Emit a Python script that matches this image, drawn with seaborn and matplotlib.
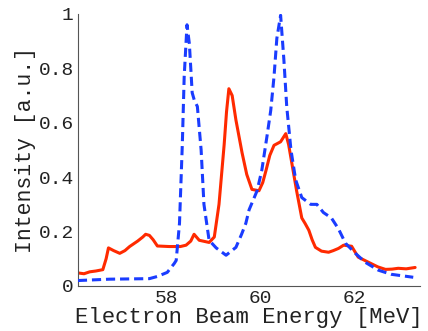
import matplotlib
matplotlib.use("Agg")
import matplotlib.pyplot as plt
import seaborn as sns
import pandas as pd
from matplotlib.ticker import FuncFormatter

red_energy = [56.12, 56.25, 56.37, 56.50, 56.65, 56.72, 56.77, 56.88, 57.01, 57.12,
              57.22, 57.39, 57.50, 57.56, 57.64, 57.72, 57.81, 58.06, 58.30, 58.42,
              58.52, 58.59, 58.70, 58.91, 59.02, 59.12, 59.23, 59.28, 59.33, 59.40,
              59.48, 59.61, 59.71, 59.82, 59.97, 60.05, 60.12, 60.20, 60.29, 60.43,
              60.54, 60.60, 60.67, 60.77, 60.88, 60.95, 61.03, 61.10, 61.17, 61.30,
              61.45, 61.55, 61.66, 61.77, 61.94, 62.08, 62.30, 62.50, 62.66, 62.80,
              62.93, 63.10, 63.29]
red_intensity = [0.048, 0.045, 0.052, 0.055, 0.06, 0.10, 0.14, 0.13, 0.12, 0.13,
                 0.145, 0.165, 0.18, 0.19, 0.186, 0.17, 0.147, 0.145, 0.145, 0.15,
                 0.165, 0.19, 0.168, 0.16, 0.18, 0.30, 0.52, 0.64, 0.725, 0.70,
                 0.61, 0.49, 0.41, 0.355, 0.35, 0.38, 0.425, 0.48, 0.517, 0.53,
                 0.56, 0.52, 0.45, 0.35, 0.25, 0.23, 0.205, 0.17, 0.142, 0.128,
                 0.124, 0.13, 0.138, 0.15, 0.146, 0.106, 0.087, 0.07, 0.061, 0.062,
                 0.065, 0.063, 0.068]

blue_energy = [56.12, 56.79, 57.64, 57.81, 58.02, 58.17, 58.21, 58.28, 58.34, 58.38,
               58.44, 58.49, 58.55, 58.60, 58.66, 58.74, 58.80, 58.91, 59.06, 59.27,
               59.48, 59.60, 59.69, 59.76, 59.93, 60.03, 60.14, 60.22, 60.29, 60.35,
               60.43, 60.50, 60.56, 60.65, 60.75, 60.88, 61.07, 61.20, 61.34, 61.51,
               61.66, 61.81, 62.02, 62.23, 62.51, 62.78, 63.08, 63.25]
blue_intensity = [0.02, 0.025, 0.027, 0.035, 0.05, 0.083, 0.094, 0.23, 0.52, 0.77,
                  0.96, 0.89, 0.71, 0.68, 0.66, 0.50, 0.30, 0.168, 0.14, 0.113,
                  0.142, 0.19, 0.23, 0.28, 0.35, 0.425, 0.55, 0.645, 0.77, 0.91,
                  0.995, 0.83, 0.66, 0.50, 0.39, 0.325, 0.30, 0.30, 0.27, 0.25,
                  0.21, 0.157, 0.12, 0.087, 0.058, 0.043, 0.036, 0.032]

x_ticks = [58, 60, 62]
y_ticks = [0, 0.2, 0.4, 0.6, 0.8, 1]

sns.set_style("white")
plt.rcParams['font.family'] = ['Liberation Mono', 'DejaVu Sans']

fig = plt.figure(figsize=(4.28, 3.31), dpi=100)
ax = fig.add_axes([0.182, 0.136, 0.800, 0.822])

df_red = pd.DataFrame({"E": red_energy, "I": red_intensity})
df_blue = pd.DataFrame({"E": blue_energy, "I": blue_intensity})
sns.lineplot(data=df_blue, x="E", y="I", ax=ax, color="#1a3cff", lw=2.2,
             linestyle=(0, (3, 1.6)), zorder=3)
sns.lineplot(data=df_red, x="E", y="I", ax=ax, color="#ff2a00", lw=2.2, zorder=2)

ax.set_xlim(56.12, 63.4)
ax.set_ylim(0, 1)
ax.set_xticks(x_ticks)
ax.set_yticks(y_ticks)
ax.yaxis.set_major_formatter(FuncFormatter(lambda v, p: "%g" % v))
ax.tick_params(direction="in", length=4, width=0.8, labelsize=14, colors="#222222", pad=3)
for s in ["top", "right"]:
    ax.spines[s].set_visible(False)
for s in ["left", "bottom"]:
    ax.spines[s].set_color("#555555")
    ax.spines[s].set_linewidth(0.8)
ax.set_xlabel("Electron Beam Energy [MeV]", fontsize=16, labelpad=0, color="#222222")
ax.set_ylabel("Intensity [a.u.]", fontsize=15.5, labelpad=2, color="#222222")

fig.savefig("out.png", dpi=100)
